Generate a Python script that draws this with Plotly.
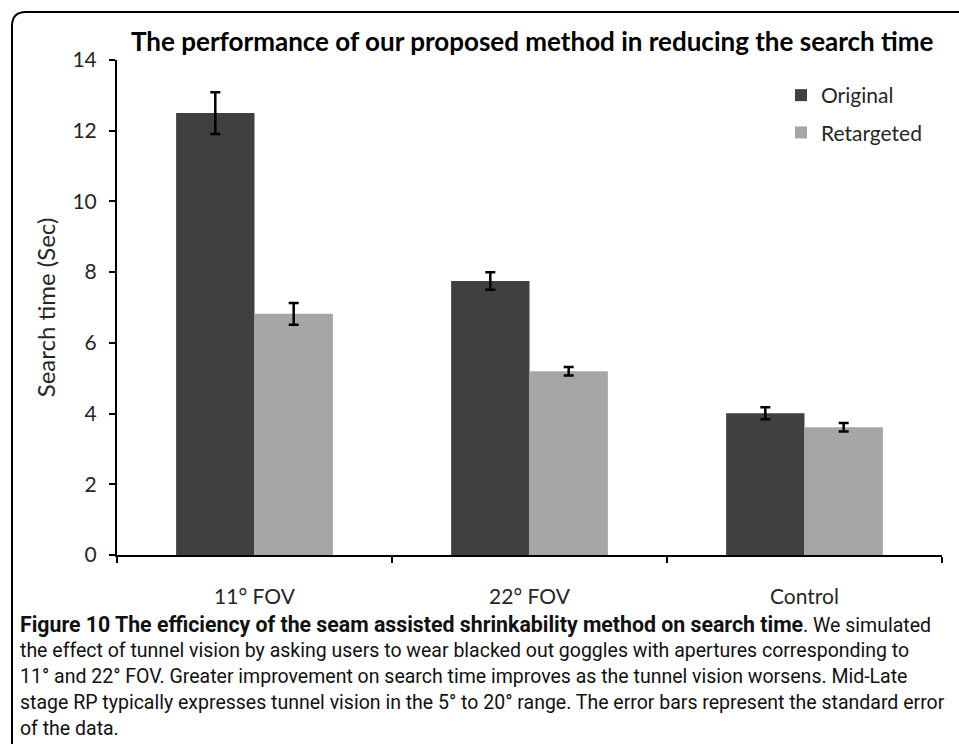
import plotly.graph_objects as go

# Data: mean search time (seconds) with standard error
categories = ["11° FOV", "22° FOV", "Control"]
original = [12.5, 7.75, 4.01]
original_se = [0.59, 0.25, 0.17]
retargeted = [6.82, 5.2, 3.61]
retargeted_se = [0.31, 0.12, 0.12]
y_ticks = [0, 2, 4, 6, 8, 10, 12, 14]

title_text = "The performance of our proposed method in reducing the search time"
caption_lines = [
    "<span style=\"font-size:21.3px\"><b>Figure 10 The efficiency of the seam "
    "assisted shrinkability method on search time</b></span>. We simulated",
    "the effect of tunnel vision by asking users to wear blacked out goggles with apertures corresponding to",
    "11° and 22° FOV. Greater improvement on search time improves as the tunnel vision worsens. Mid-Late",
    "stage RP typically expresses tunnel vision in the 5° to 20° range. The error bars represent the standard error",
    "of the data.",
]

W, H = 959, 744
L, R, T, B = 117, 17, 60, 189
PW, PH = W - L - R, H - T - B


def px(x):
    return (x - L) / PW


def py(y):
    return (H - B - y) / PH


CHART_FONT = "Lato, 'Open Sans', sans-serif"
CAPTION_FONT = "Roboto, 'Liberation Sans', sans-serif"

fig = go.Figure()
fig.add_trace(go.Bar(
    name="Original", x=categories, y=original,
    marker=dict(color="#404040", line=dict(width=0)),
    error_y=dict(type="data", array=original_se, color="#000000", thickness=2.5, width=5),
    legendgroup="a",
))
fig.add_trace(go.Bar(
    name="Retargeted", x=categories, y=retargeted,
    marker=dict(color="#A6A6A6", line=dict(width=0)),
    error_y=dict(type="data", array=retargeted_se, color="#000000", thickness=2.5, width=5),
    legendgroup="b",
))

annotations = [
    dict(text="<b>" + title_text + "</b>", x=px(532), xref="paper", y=py(41), yref="paper",
         showarrow=False, xanchor="center", yanchor="middle",
         font=dict(family=CHART_FONT, size=26, color="#000000")),
]
caption_y = [624, 650, 676, 702, 728]
for line, yy in zip(caption_lines, caption_y):
    annotations.append(dict(
        text=line, x=px(18), xref="paper", y=py(yy), yref="paper",
        showarrow=False, xanchor="left", yanchor="middle", align="left",
        font=dict(family=CAPTION_FONT, size=19.5, color="#111111"),
    ))

# Rounded frame around the figure (top-left corner only visible)
r = 14
x0, y0 = 12, 12
frame_path = (
    f"M {px(x0)} {py(H + 10)} L {px(x0)} {py(y0 + r)} "
    f"Q {px(x0)} {py(y0)} {px(x0 + r)} {py(y0)} L {px(W + 10)} {py(y0)}"
)

fig.update_layout(
    width=W, height=H,
    margin=dict(l=L, r=R, t=T, b=B),
    paper_bgcolor="#FFFFFF", plot_bgcolor="#FFFFFF",
    barmode="group", bargap=0.43, bargroupgap=0,
    font=dict(family=CHART_FONT, size=20, color="#262626"),
    showlegend=True,
    legend=dict(
        x=px(781), y=py(75), xanchor="left", yanchor="top",
        font=dict(family=CHART_FONT, size=21, color="#262626"),
        traceorder="grouped", tracegroupgap=7,
        bgcolor="rgba(0,0,0,0)", itemwidth=30,
    ),
    xaxis=dict(
        showline=True, linecolor="#000000", linewidth=2,
        ticks="outside", tickson="boundaries", ticklen=6, tickwidth=2, tickcolor="#000000",
        showgrid=False, zeroline=False, ticklabelstandoff=22,
        tickfont=dict(family=CHART_FONT, size=21, color="#262626"),
    ),
    yaxis=dict(
        range=[0, 14], tickvals=y_ticks,
        showline=True, linecolor="#000000", linewidth=2,
        ticks="outside", ticklen=6, tickwidth=2, tickcolor="#000000",
        showgrid=False, zeroline=False, ticklabelstandoff=8,
        tickfont=dict(family=CHART_FONT, size=21, color="#262626"),
        title=dict(text="Search time (Sec)", standoff=10,
                   font=dict(family=CHART_FONT, size=24, color="#262626")),
    ),
    annotations=annotations,
    shapes=[dict(type="path", path=frame_path, xref="paper", yref="paper",
                 line=dict(color="#000000", width=2))],
)

fig.write_html("out.html")
